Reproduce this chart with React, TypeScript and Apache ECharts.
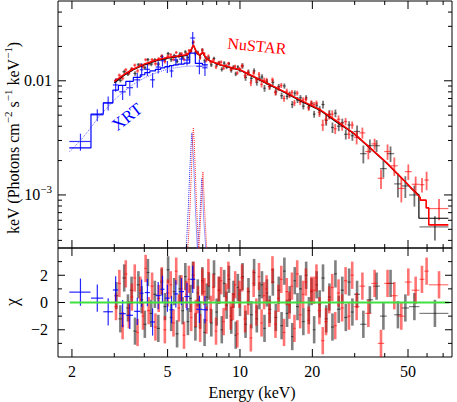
import React, { useEffect, useRef } from "react";
import * as echarts from "echarts";

// ---------- axis ranges / ticks ----------
const X_MIN = 1.75;
const X_MAX = 76.2;
const F_MIN = 3.43e-4;
const F_MAX = 0.05;
const C_MIN = -4;
const C_MAX = 4;

const xMajorTicks = [2, 5, 10, 20, 50];
const xTickLabels = ["2", "5", "10", "20", "50"];
const xMinorTicks = [3, 4, 6, 7, 8, 9, 30, 40, 60, 70];
const fMajorTicks = [0.001, 0.01];
const fTickLabels = ["10{s|−3}", "0.01"];
const fMinorTicks = [4e-4, 5e-4, 6e-4, 7e-4, 8e-4, 9e-4, 0.002, 0.003, 0.004, 0.005, 0.006, 0.007, 0.008, 0.009, 0.02, 0.03, 0.04];
const cMajorTicks = [-2, 0, 2];
const cTickLabels = ["−2", "0", "2"];
const cMinorTicks = [-3, -1, 1, 3];

// ---------- XRT data ----------
const xrtE = [2.17, 2.55, 2.83, 3.04, 3.25, 3.48, 3.74, 3.9, 4.12, 4.33, 4.57, 4.76, 4.99, 5.19, 5.41, 5.71, 6.02, 6.36, 6.78, 7.15];
const xrtDE = [0.22, 0.15, 0.13, 0.08, 0.1, 0.11, 0.11, 0.07, 0.1, 0.1, 0.11, 0.09, 0.11, 0.1, 0.11, 0.14, 0.15, 0.15, 0.2, 0.18];
const xrtF = [0.00294, 0.00503, 0.0064, 0.0092, 0.008, 0.0087, 0.0102, 0.0125, 0.0126, 0.0102, 0.0132, 0.015, 0.0133, 0.0122, 0.0152, 0.0155, 0.0152, 0.0237, 0.0134, 0.013];
const xrtFerr = [0.0005, 0.0006, 0.0009, 0.0012, 0.0012, 0.0013, 0.0015, 0.0017, 0.0016, 0.0015, 0.0016, 0.0017, 0.0016, 0.0015, 0.0016, 0.0016, 0.0016, 0.003, 0.002, 0.002];
const xrtChi = [0.76, 0.32, -0.68, 0.92, -0.82, -0.94, -0.65, 0.68, 0.73, -1.43, 0.51, 0.97, 0.32, -0.53, 0.63, 0.8, 0.44, 1.7, -0.5, -0.53];

// XRT folded model (histogram): bin edges and bin values
const xrtModelEdges = [1.95, 2.4, 2.7, 2.96, 3.12, 3.35, 3.6, 3.85, 4.02, 4.22, 4.45, 4.68, 4.87, 5.09, 5.3, 5.54, 5.86, 6.18, 6.52, 6.98, 7.35];
const xrtModelF = [0.00258, 0.0051, 0.0064, 0.0083, 0.0091, 0.0099, 0.0107, 0.0113, 0.0118, 0.0122, 0.0126, 0.013, 0.0133, 0.0136, 0.0138, 0.014, 0.0143, 0.0175, 0.0142, 0.0138];
// XRT continuum (dotted)
const xrtContE = [1.95, 2.0, 2.2, 2.4, 2.6, 2.8, 3.0, 3.3, 3.6, 4.0, 4.5, 5.0, 5.5, 6.0, 6.5, 7.0, 7.4];
const xrtContF = [0.0024, 0.0025, 0.0031, 0.0039, 0.0049, 0.0058, 0.0068, 0.0081, 0.0093, 0.0106, 0.0118, 0.0126, 0.0131, 0.0134, 0.0135, 0.0134, 0.0133];

// ---------- NuSTAR FPMA (black): bin edges, flux, flux error, residual ----------
const nuAEdges = [3.0, 3.12, 3.24, 3.36, 3.48, 3.6, 3.72, 3.84, 3.96, 4.08, 4.2, 4.35, 4.5, 4.65, 4.8, 4.95, 5.1, 5.25, 5.4, 5.55, 5.7, 5.85, 6.0, 6.15, 6.3, 6.45, 6.6, 6.75, 6.9, 7.05, 7.2, 7.35, 7.5, 7.7, 7.9, 8.1, 8.3, 8.5, 8.7, 8.9, 9.1, 9.3, 9.5, 9.7, 9.9, 10.1, 10.4, 10.7, 11.0, 11.3, 11.6, 11.9, 12.2, 12.5, 12.8, 13.1, 13.5, 13.9, 14.3, 14.7, 15.1, 15.5, 15.9, 16.3, 16.7, 17.1, 17.6, 18.1, 18.6, 19.1, 19.6, 20.1, 20.6, 21.1, 21.8, 22.5, 23.2, 23.9, 24.6, 25.3, 26.2, 27.1, 28.0, 28.9, 29.8, 31.6, 33.6, 35.8, 38.2, 40.8, 43.8, 47.0, 50.5, 55.8, 73.6];
const nuAF = [0.0101, 0.0101, 0.012, 0.0115, 0.0126, 0.0116, 0.0138, 0.0136, 0.013, 0.0153, 0.014, 0.0152, 0.014, 0.0163, 0.0154, 0.0173, 0.0153, 0.0166, 0.0148, 0.0171, 0.0161, 0.0179, 0.016, 0.0182, 0.0216, 0.0174, 0.0177, 0.0161, 0.0186, 0.015, 0.0158, 0.0158, 0.0138, 0.0157, 0.0138, 0.0144, 0.0126, 0.0143, 0.0132, 0.0141, 0.0123, 0.0132, 0.0115, 0.0132, 0.0124, 0.0135, 0.0107, 0.0119, 0.0105, 0.0122, 0.0097, 0.0105, 0.0108, 0.0086, 0.0098, 0.0089, 0.0097, 0.008, 0.0089, 0.0074, 0.009, 0.0073, 0.0076, 0.0062, 0.0078, 0.0068, 0.0071, 0.006, 0.0071, 0.0059, 0.0063, 0.0051, 0.0061, 0.0055, 0.0062, 0.0045, 0.0051, 0.0039, 0.0052, 0.004, 0.0043, 0.0034, 0.0041, 0.0033, 0.0036, 0.0023, 0.0027, 0.0027, 0.0017, 0.0023, 0.00125, 0.0012, 0.001, 0.000525];
const nuAFerr = [0.0004, 0.00042, 0.00045, 0.00047, 0.00049, 0.00051, 0.00052, 0.00054, 0.00056, 0.00056, 0.00058, 0.00059, 0.0006, 0.00062, 0.00062, 0.00063, 0.00064, 0.00064, 0.00065, 0.00066, 0.00066, 0.00066, 0.00068, 0.00072, 0.0008, 0.00075, 0.00069, 0.00067, 0.0007, 0.00066, 0.00062, 0.0006, 0.00059, 0.00058, 0.00057, 0.00056, 0.00055, 0.00054, 0.00053, 0.00053, 0.00052, 0.00052, 0.00051, 0.0005, 0.0005, 0.00073, 0.00071, 0.00068, 0.00067, 0.00065, 0.00063, 0.00061, 0.0006, 0.00058, 0.00056, 0.00055, 0.00053, 0.00052, 0.0005, 0.00049, 0.00047, 0.00046, 0.00045, 0.00044, 0.00043, 0.00041, 0.0004, 0.00039, 0.00038, 0.00037, 0.00036, 0.00035, 0.00034, 0.0005, 0.00048, 0.00046, 0.00044, 0.00041, 0.0004, 0.00038, 0.00036, 0.00034, 0.00032, 0.00032, 0.00046, 0.00041, 0.00036, 0.00032, 0.00028, 0.00036, 0.0003, 0.00026, 0.00021, 0.000125];
const nuAChi = [0.5, -1.2, 1.8, -0.4, 0.9, -2.1, 1.3, 0.2, -1.6, 2.2, -0.8, 0.6, -1.9, 1.5, -0.3, 2.4, -1.1, 0.8, -2.3, 1.0, -0.6, 1.9, -1.4, 0.3, 2.0, -1.8, 0.7, -0.9, 1.6, -2.2, 0.4, 1.2, -1.5, 2.1, -0.7, 0.9, -2.0, 1.4, -0.2, 1.7, -1.3, 0.6, -2.4, 1.1, 0.0, 1.9, -1.6, 0.8, -0.9, 2.2, -1.2, 0.5, 1.3, -1.9, 0.7, -0.5, 1.5, -1.1, 0.9, -1.7, 2.3, -0.8, 0.2, -2.5, 1.6, -0.3, 1.0, -1.4, 2.0, -0.6, 0.8, -2.0, 1.3, -0.1, 1.8, -1.2, 0.4, -1.8, 2.1, -0.5, 0.9, -1.1, 1.5, -0.7, 0.6, -1.6, 0.2, 1.2, -1.0, 1.4, -0.9, -0.4, -0.3, -0.8];

// ---------- NuSTAR FPMB (red) ----------
const nuBEdges = [3.0, 3.1, 3.2, 3.3, 3.4, 3.5, 3.6, 3.7, 3.8, 3.9, 4.0, 4.1, 4.24, 4.38, 4.52, 4.66, 4.8, 4.94, 5.08, 5.22, 5.36, 5.5, 5.64, 5.78, 5.92, 6.06, 6.2, 6.34, 6.48, 6.62, 6.76, 6.9, 7.04, 7.18, 7.32, 7.46, 7.65, 7.85, 8.05, 8.25, 8.45, 8.65, 8.85, 9.05, 9.25, 9.45, 9.65, 9.85, 10.05, 10.35, 10.65, 10.95, 11.25, 11.55, 11.85, 12.15, 12.45, 12.75, 13.05, 13.45, 13.85, 14.25, 14.65, 15.05, 15.45, 15.85, 16.25, 16.65, 17.05, 17.55, 18.05, 18.55, 19.05, 19.55, 20.05, 20.55, 21.05, 21.75, 22.45, 23.15, 23.85, 24.55, 25.25, 26.15, 27.05, 27.95, 28.85, 29.75, 31.4, 33.2, 35.2, 37.4, 39.8, 42.4, 45.3, 48.5, 51.8, 55.8, 58.5, 61.0, 73.6];
const nuBF = [0.0101, 0.0112, 0.0105, 0.0125, 0.0117, 0.0127, 0.0137, 0.0122, 0.0138, 0.0133, 0.0153, 0.0141, 0.0153, 0.0141, 0.0156, 0.0165, 0.0147, 0.0164, 0.0169, 0.0154, 0.0177, 0.0164, 0.0173, 0.0154, 0.0173, 0.0184, 0.0183, 0.0219, 0.018, 0.0174, 0.0159, 0.0186, 0.0173, 0.0151, 0.0165, 0.0146, 0.0152, 0.0132, 0.0144, 0.0146, 0.0129, 0.0136, 0.0142, 0.0126, 0.0129, 0.0134, 0.0117, 0.0128, 0.0135, 0.0111, 0.0117, 0.0096, 0.0117, 0.0102, 0.0114, 0.0093, 0.0101, 0.0101, 0.0089, 0.0102, 0.0079, 0.0086, 0.0091, 0.007, 0.0081, 0.0075, 0.0079, 0.0064, 0.0078, 0.0065, 0.0068, 0.0069, 0.0058, 0.0064, 0.0062, 0.0064, 0.0053, 0.0041, 0.0046, 0.005, 0.0051, 0.0038, 0.0046, 0.004, 0.0044, 0.0034, 0.0041, 0.0032, 0.0035, 0.0024, 0.0028, 0.0014, 0.0024, 0.0018, 0.00114, 0.0016, 0.00124, 0.00123, 0.00135, 0.00076];
const nuBFerr = [0.00036, 0.00037, 0.00039, 0.00041, 0.00042, 0.00044, 0.00045, 0.00046, 0.00047, 0.00048, 0.00049, 0.0005, 0.00051, 0.00053, 0.00054, 0.00055, 0.00055, 0.00056, 0.00057, 0.00057, 0.00057, 0.00058, 0.00058, 0.00059, 0.00059, 0.00061, 0.00067, 0.00072, 0.00065, 0.00061, 0.0006, 0.00062, 0.00059, 0.00055, 0.00054, 0.00052, 0.00051, 0.0005, 0.00049, 0.00048, 0.00048, 0.00047, 0.00047, 0.00046, 0.00046, 0.00045, 0.00044, 0.00044, 0.00068, 0.00065, 0.00064, 0.00062, 0.0006, 0.00058, 0.00057, 0.00056, 0.00054, 0.00053, 0.00051, 0.0005, 0.00048, 0.00047, 0.00046, 0.00044, 0.00043, 0.00042, 0.00041, 0.0004, 0.00039, 0.00037, 0.00036, 0.00035, 0.00034, 0.00034, 0.00032, 0.00032, 0.00048, 0.00046, 0.00044, 0.00042, 0.0004, 0.00038, 0.00037, 0.00035, 0.00033, 0.00031, 0.0003, 0.00043, 0.00039, 0.00035, 0.00031, 0.00027, 0.00037, 0.00033, 0.00028, 0.00025, 0.00021, 0.00018, 0.00025, 0.00016];
const nuBChi = [-0.3, 1.4, -1.7, 2.1, -0.9, 0.4, 1.8, -2.2, 0.9, -1.0, 2.5, -0.6, 1.2, -1.8, 0.3, 1.6, -2.0, 0.7, 1.3, -1.5, 2.3, -0.4, 1.0, -2.4, 0.6, 1.7, -1.1, 2.0, -0.8, 0.2, -1.9, 1.5, 0.8, -1.3, 2.2, -0.5, 1.1, -2.1, 0.9, 1.6, -1.4, 0.4, 2.0, -1.0, -0.3, 1.3, -2.3, 0.6, 1.8, -1.2, 0.1, -2.6, 1.4, -0.7, 1.9, -1.5, 0.5, 1.0, -0.8, 2.4, -1.6, 0.3, 1.7, -2.2, 0.8, -0.2, 1.2, -1.9, 2.1, -0.9, 0.6, 1.5, -1.3, 0.9, 0.9, 1.8, -0.6, -2.8, -1.4, 0.2, 1.1, -1.7, 0.7, -0.4, 1.6, -1.0, 2.0, -0.3, 1.2, -0.8, 1.4, -3.0, 1.4, 0.5, -1.0, 1.5, 0.9, 1.7, 2.3, 1.3];

// ---------- NuSTAR folded models ----------
const nuAModelE = [3.0, 3.3, 3.6, 4.0, 4.5, 5.0, 5.5, 6.0, 6.2, 6.4, 6.6, 6.8, 7.0, 7.2, 7.5, 8.3, 10, 11.4, 13, 15.7, 18, 21.6, 25, 29.7, 34.9, 40.9, 48, 52, 55.5, 55.5, 73.6];
const nuAModelF = [0.0096, 0.0112, 0.0125, 0.0138, 0.015, 0.0158, 0.0163, 0.0167, 0.0176, 0.0205, 0.0176, 0.0166, 0.0176, 0.0158, 0.0149, 0.0137, 0.0124, 0.0108, 0.0094, 0.0077, 0.0066, 0.0055, 0.0044, 0.00345, 0.00255, 0.00188, 0.00134, 0.00112, 0.001, 0.000625, 0.000625];
const nuBModelE = [3.0, 3.3, 3.6, 4.0, 4.5, 5.0, 5.5, 6.0, 6.2, 6.4, 6.6, 6.8, 7.0, 7.2, 7.5, 8.3, 10, 11.4, 13, 15.7, 18, 21.6, 25, 29.7, 34.9, 40.9, 48, 52, 56.2, 56.2, 59.5, 59.5, 61, 61, 73.6];
const nuBModelF = [0.0099, 0.0114, 0.0127, 0.014, 0.0152, 0.016, 0.0165, 0.0169, 0.0178, 0.0207, 0.0178, 0.0168, 0.0178, 0.016, 0.015, 0.0138, 0.0125, 0.0109, 0.0095, 0.0078, 0.0067, 0.00557, 0.0045, 0.00348, 0.00257, 0.0019, 0.00135, 0.00113, 0.00095, 0.0009, 0.0009, 0.00077, 0.00077, 0.000547, 0.000547];

// ---------- Gaussian line components (dotted) ----------
const gRedE1 = [5.95, 6.1, 6.2, 6.28, 6.34, 6.4, 6.46, 6.52, 6.6, 6.7, 6.85];
const gRedF1 = [0.0002, 0.0004, 0.0008, 0.0016, 0.0028, 0.0039, 0.0028, 0.0016, 0.0008, 0.0004, 0.0002];
const gBlueE1 = [5.85, 6.0, 6.1, 6.18, 6.25, 6.31, 6.37, 6.44, 6.52, 6.62, 6.75];
const gBlueF1 = [0.0002, 0.0004, 0.0008, 0.0016, 0.0026, 0.0035, 0.0026, 0.0016, 0.0008, 0.0004, 0.0002];
const gRedE2 = [6.65, 6.78, 6.88, 6.95, 7.01, 7.07, 7.14, 7.24, 7.37];
const gRedF2 = [0.0002, 0.0004, 0.0007, 0.0011, 0.0016, 0.0011, 0.0007, 0.0004, 0.0002];
const gBlueE2 = [6.58, 6.7, 6.8, 6.88, 6.94, 7.0, 7.07, 7.17, 7.3];
const gBlueF2 = [0.0002, 0.0004, 0.0006, 0.001, 0.0014, 0.001, 0.0006, 0.0004, 0.0002];

// zero line extent
const zeroLineE = [1.96, 74.5];

const FONT = "'Liberation Serif', 'Times New Roman', serif";

function zip(...arrs: number[][]) {
  const n = Math.min(...arrs.map((a) => a.length));
  const out: number[][] = [];
  for (let i = 0; i < n; i++) out.push(arrs.map((a) => a[i]));
  return out;
}

// [center, value, halfWidth, err] rows from bin edges
function binned(edges: number[], vals: number[], errs: number[]) {
  const n = Math.min(edges.length - 1, vals.length, errs.length);
  const out: number[][] = [];
  for (let i = 0; i < n; i++) {
    out.push([(edges[i] + edges[i + 1]) / 2, vals[i], (edges[i + 1] - edges[i]) / 2, errs[i]]);
  }
  return out;
}

function errSeries(grid: number, data: number[][], color: string, width: number, z: number, logY: boolean) {
  return {
    type: "custom",
    xAxisIndex: grid,
    yAxisIndex: grid,
    clip: true,
    silent: true,
    z,
    data,
    encode: { x: 0, y: 1 },
    renderItem: (params: any, api: any) => {
      const e = api.value(0);
      const f = api.value(1);
      const de = api.value(2);
      const df = api.value(3);
      const l = api.coord([e - de, f]);
      const r = api.coord([e + de, f]);
      const lowV = logY ? Math.max(f - df, 1e-7) : f - df;
      const lo = api.coord([e, lowV]);
      const hi = api.coord([e, f + df]);
      return {
        type: "group",
        children: [
          { type: "line", shape: { x1: l[0], y1: l[1], x2: r[0], y2: r[1] }, style: { stroke: color, lineWidth: 1.2 } },
          { type: "line", shape: { x1: lo[0], y1: lo[1], x2: hi[0], y2: hi[1] }, style: { stroke: color, lineWidth: width } },
        ],
      };
    },
  };
}

function lineSeries(grid: number, xs: number[], ys: number[], color: string, width: number, z: number, extra: any = {}) {
  return {
    type: "line",
    xAxisIndex: grid,
    yAxisIndex: grid,
    data: zip(xs, ys),
    showSymbol: false,
    symbol: "none",
    silent: true,
    z,
    lineStyle: { color, width, ...(extra.lineStyle || {}) },
    itemStyle: { color },
    step: extra.step,
    clip: true,
  };
}

const richSup = { s: { fontSize: 11, fontFamily: FONT, verticalAlign: "top", lineHeight: 12, fill: "#000" } };

function xTickSeries(grid: number, values: number[], len: number, yLo: number, yHi: number) {
  return {
    type: "custom",
    xAxisIndex: grid,
    yAxisIndex: grid,
    silent: true,
    clip: false,
    z: 20,
    data: values.map((v) => [v, yLo]),
    renderItem: (params: any, api: any) => {
      const v = api.value(0);
      const b = api.coord([v, yLo]);
      const t = api.coord([v, yHi]);
      const st = { stroke: "#000", lineWidth: 1 };
      return {
        type: "group",
        children: [
          { type: "line", shape: { x1: b[0], y1: b[1], x2: b[0], y2: b[1] - len }, style: st },
          { type: "line", shape: { x1: t[0], y1: t[1], x2: t[0], y2: t[1] + len }, style: st },
        ],
      };
    },
  };
}

function yTickSeries(grid: number, values: number[], len: number) {
  return {
    type: "custom",
    xAxisIndex: grid,
    yAxisIndex: grid,
    silent: true,
    clip: false,
    z: 20,
    data: values.map((v) => [X_MIN, v]),
    renderItem: (params: any, api: any) => {
      const v = api.value(1);
      const l = api.coord([X_MIN, v]);
      const r = api.coord([X_MAX, v]);
      const st = { stroke: "#000", lineWidth: 1 };
      return {
        type: "group",
        children: [
          { type: "line", shape: { x1: l[0], y1: l[1], x2: l[0] + len, y2: l[1] }, style: st },
          { type: "line", shape: { x1: r[0], y1: r[1], x2: r[0] - len, y2: r[1] }, style: st },
        ],
      };
    },
  };
}

function buildOption(): any {
  const hiddenAxis = {
    axisLine: { show: false },
    axisTick: { show: false },
    axisLabel: { show: false },
    splitLine: { show: false },
  };
  const nuAFlux = binned(nuAEdges, nuAF, nuAFerr);
  const nuBFlux = binned(nuBEdges, nuBF, nuBFerr);
  const nuARes = binned(nuAEdges, nuAChi, nuAChi.map(() => 1));
  const nuBRes = binned(nuBEdges, nuBChi, nuBChi.map(() => 1));
  return {
    animation: false,
    backgroundColor: "#fff",
    textStyle: { fontFamily: FONT },
    grid: [
      { left: 58, right: 5, top: 1, height: 247, show: true, borderColor: "#000", borderWidth: 1, backgroundColor: "transparent" },
      { left: 58, right: 5, top: 248, height: 109, show: true, borderColor: "#000", borderWidth: 1, backgroundColor: "transparent" },
    ],
    xAxis: [
      { type: "log", logBase: 10, gridIndex: 0, min: X_MIN, max: X_MAX, ...hiddenAxis },
      { type: "log", logBase: 10, gridIndex: 1, min: X_MIN, max: X_MAX, ...hiddenAxis },
    ],
    yAxis: [
      { type: "log", logBase: 10, gridIndex: 0, min: F_MIN, max: F_MAX, ...hiddenAxis },
      { type: "value", gridIndex: 1, min: C_MIN, max: C_MAX, ...hiddenAxis },
    ],
    series: [
      // upper panel data
      errSeries(0, nuAFlux, "rgba(0,0,0,0.55)", 1.8, 2, true),
      errSeries(0, nuBFlux, "rgba(255,0,0,0.6)", 1.8, 3, true),
      errSeries(0, zip(xrtE, xrtF, xrtDE, xrtFerr), "rgba(0,0,255,0.8)", 1.2, 4, true),
      // gaussian components
      lineSeries(0, gBlueE1, gBlueF1, "#3030ff", 1, 5, { lineStyle: { type: "dotted" } }),
      lineSeries(0, gRedE1, gRedF1, "#ff3030", 1, 5, { lineStyle: { type: "dotted" } }),
      lineSeries(0, gBlueE2, gBlueF2, "#3030ff", 1, 5, { lineStyle: { type: "dotted" } }),
      lineSeries(0, gRedE2, gRedF2, "#ff3030", 1, 5, { lineStyle: { type: "dotted" } }),
      lineSeries(0, xrtContE, xrtContF, "#6a6aff", 1, 5, { lineStyle: { type: "dotted" } }),
      // models
      lineSeries(0, nuAModelE, nuAModelF, "#000000", 1.2, 6),
      lineSeries(0, nuBModelE, nuBModelF, "#ff0000", 1.6, 7),
      lineSeries(0, xrtModelEdges, xrtModelF.concat([xrtModelF[xrtModelF.length - 1]]), "#0000ff", 1.2, 8, { step: "end" }),
      // residuals
      errSeries(1, nuARes, "rgba(0,0,0,0.5)", 2.6, 2, false),
      errSeries(1, nuBRes, "rgba(255,0,0,0.55)", 2.6, 3, false),
      errSeries(1, zip(xrtE, xrtChi, xrtDE, xrtChi.map(() => 1)), "rgba(0,0,255,0.85)", 1.2, 4, false),
      lineSeries(1, zeroLineE, [0, 0], "#3fe03f", 2, 9),
      // ticks
      xTickSeries(0, xMajorTicks, 8, F_MIN, F_MAX),
      xTickSeries(0, xMinorTicks, 4, F_MIN, F_MAX),
      xTickSeries(1, xMajorTicks, 8, C_MIN, C_MAX),
      xTickSeries(1, xMinorTicks, 4, C_MIN, C_MAX),
      yTickSeries(0, fMajorTicks, 8),
      yTickSeries(0, fMinorTicks, 4),
      yTickSeries(1, cMajorTicks, 7),
      yTickSeries(1, cMinorTicks, 4),
    ],
  };
}

function txt(x: number, y: number, text: string, size: number, align: string, extra: any = {}) {
  return {
    type: "text",
    x,
    y,
    rotation: extra.rotation || 0,
    z: 100,
    silent: true,
    style: {
      text,
      fontSize: size,
      fontFamily: FONT,
      fill: extra.fill || "#000",
      align,
      verticalAlign: "middle",
      lineHeight: extra.lineHeight,
      rich: extra.rich,
    },
  };
}

function buildGraphics(chart: any): any[] {
  const g: any[] = [];
  // tick labels placed through the axis scales
  xMajorTicks.forEach((v, i) => {
    const p = chart.convertToPixel({ xAxisIndex: 1, yAxisIndex: 1 }, [v, C_MIN]);
    g.push(txt(p[0], p[1] + 14, xTickLabels[i], 16, "center"));
  });
  fMajorTicks.forEach((v, i) => {
    const p = chart.convertToPixel({ xAxisIndex: 0, yAxisIndex: 0 }, [X_MIN, v]);
    g.push(txt(p[0] - 6, p[1], fTickLabels[i], 16, "right", { lineHeight: 22, rich: richSup }));
  });
  cMajorTicks.forEach((v, i) => {
    const p = chart.convertToPixel({ xAxisIndex: 1, yAxisIndex: 1 }, [X_MIN, v]);
    g.push(txt(p[0] - 10, p[1], cTickLabels[i], 16, "right"));
  });
  g.push(txt(13, 138, "keV (Photons cm{s|−2} s{s|−1} keV{s|−1})", 16, "center", { rotation: Math.PI / 2, lineHeight: 22, rich: richSup }));
  g.push(txt(12, 302, "χ", 18, "center", { rotation: Math.PI / 2 }));
  g.push(txt(252, 392, "Energy (keV)", 16, "center"));
  g.push(txt(257, 46, "NuSTAR", 16, "center", { rotation: -0.1, fill: "#ff0000" }));
  g.push(txt(127, 117, "XRT", 17, "center", { rotation: 0.66, fill: "#0000ff" }));
  return g;
}

export default function App() {
  const ref = useRef<HTMLDivElement>(null);
  useEffect(() => {
    if (!ref.current) return;
    const chart = echarts.init(ref.current, undefined, { renderer: "svg" });
    chart.setOption(buildOption());
    chart.setOption({ graphic: buildGraphics(chart) });
    return () => chart.dispose();
  }, []);
  return (
    <div
      ref={ref}
      style={{ position: "fixed", left: 0, top: 0, width: 457, height: 402, background: "#fff" }}
    />
  );
}
